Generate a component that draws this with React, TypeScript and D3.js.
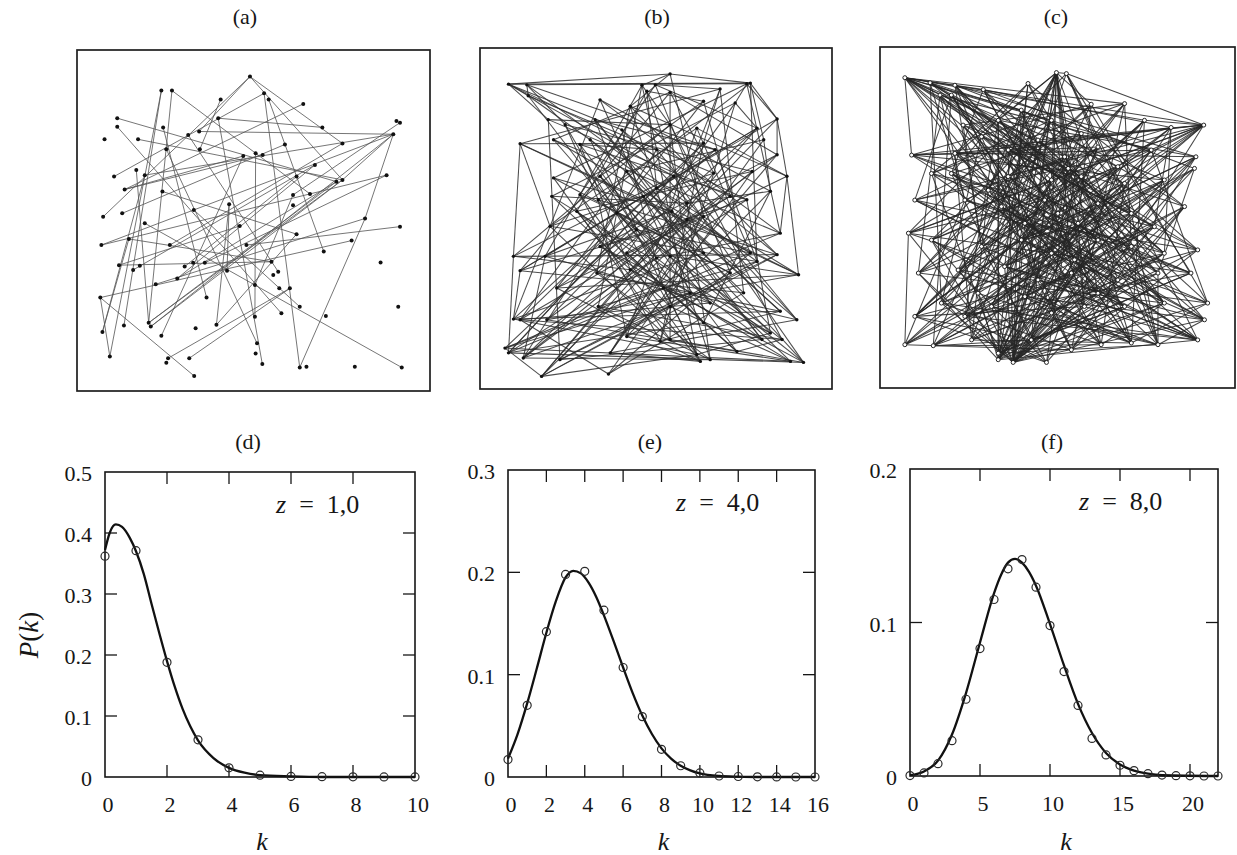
import React from "react";
import * as d3 from "d3";

const W = 1237;
const H = 855;
const FONT = "Liberation Serif, Times New Roman, Times, DejaVu Serif, Noto Serif, FreeSerif, serif";
const INK = "#161616";

// ---------- panel titles
const topTitles = ["(a)", "(b)", "(c)"];
const bottomTitles = ["(d)", "(e)", "(f)"];
const zLabels = ["1,0", "4,0", "8,0"];

// ---------- network (a): node positions in percent of the frame, edges as index pairs
const netANodes: [number, number][] = [
  [49.0, 7.8], [23.9, 11.9], [26.9, 11.9], [40.7, 14.5], [53.0, 12.7], [54.3, 14.5], [64.1, 15.8],
  [11.4, 20.0], [40.0, 20.0], [11.4, 22.5], [24.4, 22.7], [90.5, 20.8], [91.5, 21.3], [7.8, 26.2],
  [17.3, 26.2], [31.5, 24.9], [34.6, 23.9], [89.6, 24.7], [25.3, 29.1], [34.8, 29.1], [75.2, 27.4],
  [58.9, 27.7], [50.6, 30.3], [52.6, 30.8], [47.1, 31.1], [67.4, 33.7], [10.5, 37.1], [16.8, 35.2],
  [19.2, 36.7], [87.7, 36.7], [13.5, 40.9], [24.2, 41.5], [73.5, 38.6], [75.2, 38.1], [62.2, 37.1],
  [66.0, 42.2], [61.2, 42.5], [61.2, 45.5], [43.1, 45.2], [7.4, 48.9], [12.8, 47.9], [33.1, 46.9],
  [81.6, 49.4], [19.2, 50.8], [46.1, 51.6], [91.5, 51.8], [6.9, 57.2], [14.7, 55.4], [26.3, 57.2],
  [48.0, 57.2], [62.2, 54.0], [77.8, 55.9], [69.9, 59.1], [11.9, 63.1], [17.8, 63.3], [32.9, 62.4],
  [36.2, 62.4], [55.1, 62.1], [57.0, 65.0], [86.0, 62.3], [15.9, 64.5], [30.5, 63.5], [42.5, 64.7],
  [22.3, 68.7], [28.4, 67.0], [55.6, 66.0], [57.3, 69.9], [60.3, 69.9], [6.6, 72.6], [36.7, 72.6],
  [50.4, 68.9], [63.1, 75.3], [91.0, 75.3], [50.4, 78.2], [57.9, 77.2], [70.5, 78.0], [7.2, 82.7],
  [13.3, 80.8], [20.3, 80.0], [20.9, 81.1], [23.9, 83.8], [33.6, 81.6], [39.5, 80.6], [9.3, 89.9],
  [25.8, 90.4], [25.3, 91.7], [31.8, 90.4], [51.0, 86.0], [50.6, 89.0], [52.5, 92.1], [63.1, 93.1],
  [65.0, 92.9], [78.7, 92.9], [92.0, 93.1], [33.2, 95.6], [69.5, 22.7],
];
const netAEdges =
  "0-20 0-33 0-39 0-16 4-90 16-17 17-28 17-46 17-42 17-33 42-90 43-93 22-73 53-57 68-94 68-83 " +
  "83-1 1-77 2-78 9-74 7-32 14-33 26-4 30-23 30-24 6-30 33-79 32-78 68-51 2-35 27-78 28-76 60-25 " +
  "48-20 40-21 63-42 38-82 82-50 5-52 10-69 31-50 36-70 41-71 49-45 61-34 3-19 18-87 25-64 44-53 " +
  "56-29 12-36 8-89 80-24 76-47 62-38 57-47 15-58 84-67 86-67 46-29 64-32 17-79 33-78 95-8";

// ---------- network (b)
const netBNodes: [number, number][] = [
  [8.1, 10.6], [13.3, 10.8], [46.0, 10.9], [49.8, 10.8], [54.0, 7.6], [54.0, 13.0], [47.4, 12.7],
  [75.8, 10.5], [76.8, 10.3], [68.2, 12.0], [72.5, 16.1], [13.7, 14.0], [34.1, 15.2], [42.7, 17.1],
  [63.5, 15.6], [19.4, 21.0], [32.7, 21.0], [84.4, 20.8], [24.2, 22.5], [54.0, 22.5], [61.6, 23.5],
  [78.7, 23.5], [40.3, 24.0], [11.4, 28.1], [20.9, 26.9], [28.4, 28.3], [31.3, 26.9], [63.5, 27.9],
  [66.8, 29.8], [84.4, 31.3], [80.6, 26.9], [50.2, 29.8], [20.9, 38.1], [34.1, 37.6], [41.7, 36.2],
  [55.0, 37.6], [66.4, 36.7], [87.2, 37.6], [77.3, 36.2], [20.4, 43.5], [28.4, 43.0], [33.6, 44.5],
  [46.4, 43.5], [50.2, 41.1], [58.8, 45.5], [75.8, 44.5], [71.1, 43.5], [82.5, 42.0], [27.5, 47.9],
  [38.9, 48.4], [54.5, 47.9], [58.8, 50.3], [63.5, 49.4], [19.9, 52.3], [44.5, 53.3], [85.3, 54.3],
  [9.5, 61.1], [18.5, 61.1], [34.1, 58.2], [41.7, 60.1], [50.2, 61.6], [54.0, 61.1], [63.5, 60.1],
  [78.7, 62.6], [84.4, 60.6], [76.8, 60.1], [11.4, 65.3], [90.5, 66.5], [33.2, 66.0], [42.7, 65.0],
  [71.1, 66.0], [52.1, 70.4], [21.8, 70.4], [59.7, 71.8], [74.9, 71.8], [33.6, 75.8], [54.0, 75.8],
  [65.4, 74.8], [85.3, 77.2], [9.5, 79.5], [11.4, 79.7], [19.0, 79.7], [63.5, 80.6], [90.0, 79.7],
  [41.7, 84.6], [51.2, 86.0], [54.0, 85.5], [80.1, 85.5], [85.8, 85.5], [82.5, 83.6], [7.1, 88.0],
  [8.1, 89.4], [12.3, 90.9], [22.7, 91.4], [37.0, 89.4], [61.6, 89.9], [65.4, 91.4], [73.0, 89.0],
  [88.2, 91.9], [91.9, 92.2], [17.5, 96.3], [36.5, 95.6], [62.6, 91.9],
];
const netBEdges =
  "0-8 0-15 0-22 0-35 0-45 1-7 1-18 1-44 1-28 2-4 2-31 2-57 2-75 3-9 3-40 3-70 4-8 4-13 4-52 5-86 " +
  "5-24 5-66 5-29 6-14 6-48 6-62 7-17 7-32 7-55 8-63 8-41 8-30 9-23 9-50 9-74 10-21 10-39 10-59 " +
  "11-26 11-36 11-82 12-47 12-61 12-79 13-37 13-68 13-96 14-33 14-72 15-93 15-46 15-19 16-28 16-87 " +
  "16-54 17-29 17-42 17-69 18-38 18-76 19-56 19-73 19-88 20-53 20-84 20-37 21-43 21-57 21-100 22-64 " +
  "22-71 23-27 23-67 24-55 24-65 25-45 25-97 25-31 26-63 26-102 27-80 27-91 28-49 28-90 29-58 29-81 " +
  "30-34 30-94 31-92 31-83 32-50 32-70 33-60 33-98 34-87 34-77 35-56 35-99 36-53 36-85 37-55 37-72 " +
  "38-48 38-101 39-44 39-89 40-62 40-95 41-64 41-99 42-66 42-74 43-79 43-67 44-92 44-47 45-58 45-91 " +
  "46-59 46-80 47-84 48-73 48-97 49-70 49-88 50-57 50-78 51-23 51-93 51-67 52-66 52-100 53-63 53-86 " +
  "54-65 54-81 55-60 55-90 56-69 56-64 57-77 58-89 58-98 59-82 60-92 61-67 61-94 62-79 62-99 63-75 " +
  "64-84 65-91 65-101 66-74 67-72 68-78 68-96 69-87 70-100 71-90 71-83 72-85 73-93 74-101 75-96 " +
  "76-92 76-98 77-80 78-85 79-95 80-88 81-97 82-91 83-94 84-102 86-99 87-93 89-95 91-99 90-98 92-96 " +
  "94-102 95-100 97-88 56-23 66-79 90-100 1-11 8-17 17-37 " +
  "0-4 0-11 3-21 5-36 7-10 9-27 12-55 14-46 18-41 20-65 22-83 24-60 26-78 28-63 30-47 32-86 33-77 " +
  "35-91 36-100 39-76 40-85 42-89 44-96 47-82 49-66 52-94 54-72 57-92 59-97 60-87 63-100 64-93 67-81 " +
  "69-99 71-95 73-90 75-88 78-79 80-101 84-98 85-102 2-19 6-43 10-36 13-64 16-62 21-68 23-53 25-69 " +
  "27-85 29-71 31-95 34-80 37-67 38-92 41-84 45-89 48-102 50-83 56-91";

// ---------- network (c)
const netCNodes: [number, number][] = [
  [7.0, 9.0], [14.1, 10.5], [21.1, 11.2], [29.1, 12.5], [41.7, 10.7], [49.7, 7.5], [52.5, 7.8],
  [59.5, 16.8], [68.9, 16.6], [20.1, 14.1], [16.9, 14.1], [33.3, 21.5], [39.8, 18.5], [48.3, 21.5],
  [56.7, 25.4], [82.0, 23.6], [91.2, 22.9], [74.5, 21.5], [23.4, 22.9], [8.9, 31.7], [21.1, 31.2],
  [28.6, 26.3], [36.1, 30.2], [44.5, 27.3], [52.0, 32.2], [61.4, 29.3], [76.4, 30.2], [89.0, 32.2],
  [88.6, 35.6], [67.0, 35.1], [14.5, 37.1], [20.1, 37.1], [36.1, 38.0], [48.3, 39.0], [56.7, 38.0],
  [68.9, 40.0], [80.1, 39.0], [53.0, 35.6], [30.5, 42.0], [9.8, 44.9], [23.9, 44.9], [40.8, 51.7],
  [46.4, 44.9], [55.8, 51.7], [61.4, 45.9], [70.8, 48.8], [85.8, 46.8], [77.3, 52.7], [34.2, 46.8],
  [50.1, 48.8], [8.0, 54.6], [14.5, 56.6], [28.6, 58.5], [39.8, 56.6], [48.3, 60.5], [61.4, 56.6],
  [70.8, 58.5], [80.1, 60.5], [89.5, 59.5], [54.8, 62.4], [10.8, 66.3], [22.0, 65.4], [35.1, 64.4],
  [44.5, 68.3], [53.9, 66.3], [67.0, 68.3], [78.3, 66.3], [87.6, 66.3], [27.6, 72.2], [61.4, 72.2],
  [9.8, 79.0], [17.3, 75.1], [31.4, 76.1], [40.8, 73.2], [48.3, 78.0], [57.6, 76.1], [68.9, 76.1],
  [80.1, 75.1], [92.3, 75.1], [91.4, 80.0], [23.9, 79.0], [7.0, 87.3], [15.0, 87.6], [25.8, 85.9],
  [33.3, 89.8], [33.3, 91.7], [37.5, 92.5], [46.9, 92.5], [53.9, 88.8], [62.3, 87.3], [70.8, 86.8],
  [78.3, 87.3], [89.5, 85.9], [42.6, 85.9],
];
const netCAdjacency = [
  "0: 8 12 16 17 23 26 29 34 35 44 45 55 65", "1: 13 24 36 47 58 71", "2: 14 27 33 49 63 90",
  "3: 15 28 42 57 77", "4: 20 31 46 62 84", "5: 6 7 11 22 30 38 41 43 52 61 64 69 73 80 86 91",
  "6: 16 25 50 67 92", "7: 19 32 53 78", "8: 18 37 56 70 88", "9: 21 39 54 82", "10: 26 40 60 79",
  "11: 27 44 66 85", "12: 29 48 59 75", "13: 30 51 68 89", "14: 31 45 72 87", "15: 32 47 57 81 93",
  "16: 17 19 20 23 33 39 50 53 60 62", "17: 34 49 74 90", "18: 35 52 76", "19: 26 36 58 92",
  "20: 27 42 65 83", "21: 37 55 71", "22: 38 46 63 86", "23: 39 57 80", "24: 40 61 77 91",
  "25: 41 54 70 85", "26: 43 59 78", "27: 44 64 88", "28: 45 66 86", "29: 46 51 73 87",
  "30: 47 67 84", "31: 48 56 79 93", "32: 49 60 82", "33: 50 68 86", "34: 51 65 90", "35: 52 72 89",
  "36: 53 62 84", "37: 54 74 86", "38: 55 69 83", "39: 56 76 92", "40: 57 67 81", "41: 58 79 86",
  "42: 59 71 93", "43: 60 75 86", "44: 61 78 85", "45: 62 80 91", "46: 63 73 88", "47: 64 82 86",
  "48: 65 77 92", "49: 66 70 84", "50: 67 81 86", "51: 68 74 90", "52: 69 87", "53: 70 79 86",
  "54: 71 83 89", "55: 72 85 86", "56: 73 91", "57: 74 84 86", "58: 75 88", "59: 76 90 93",
  "60: 77 86", "61: 78 87", "62: 79 86 92", "63: 80 89", "64: 81 90", "65: 82 86", "66: 83 91",
  "67: 84 93", "68: 85 86", "69: 86 92", "70: 87 93", "71: 86 88", "72: 86 89", "73: 86 90",
  "74: 86 91", "75: 86 92", "76: 86 93", "77: 86 89", "78: 86 90", "79: 86 91", "80: 87 92",
  "81: 88", "82: 89 93", "83: 90", "84: 91", "85: 92",
];
const netCEdgesExtra =
  "1-40 1-66 2-52 2-77 3-31 3-69 4-37 4-56 6-45 6-83 7-43 7-60 8-30 8-62 9-44 9-75 10-48 10-92 " +
  "11-57 11-80 12-38 12-90 13-71 13-58 14-50 14-84 15-22 15-70 17-41 17-81 18-47 18-89 19-25 19-67 " +
  "20-34 20-91 21-45 21-88 22-58 23-66 24-51 24-79 25-60 25-93 26-39 26-85 27-53 27-82 28-62 28-81 " +
  "29-52 29-84 30-64 31-76 32-57 33-72 34-61 35-63 35-82 36-68 37-70 38-75 39-65 40-78 41-92 42-50 " +
  "43-77 44-73 45-53 46-87 47-71 48-88 49-62 50-76 51-84 52-89 53-78 54-93 55-81 56-83 57-70 58-80 " +
  "59-86 60-85 61-91 63-92 64-82 66-85 67-80 68-90 69-83 70-75 71-92 72-91 73-79 74-88 76-84 77-85 " +
  "0-3 0-19 0-41 0-53 5-24 5-33 5-48 5-54 5-75 16-42 16-69 16-72 16-80 85-11 85-23 85-34 85-45 " +
  "85-56 86-12 86-27 86-36 86-46";

// ---------- degree distributions (d) z = 1
const kD = [0, 1, 2, 3, 4, 5, 6, 7, 8, 9, 10];
const pD = [0.362, 0.371, 0.188, 0.061, 0.015, 0.003, 0.001, 0.0005, 0.0003, 0.0002, 0.0001];
const curveKD = [0, 0.15, 0.35, 0.55, 0.8, 1, 1.25, 1.5, 1.75, 2, 2.25, 2.5, 2.75, 3, 3.5, 4, 4.5, 5, 6, 7, 8, 10];
const curvePD = [0.372, 0.4, 0.414, 0.41, 0.392, 0.37, 0.333, 0.284, 0.236, 0.19, 0.148, 0.112, 0.083, 0.06,
  0.031, 0.015, 0.007, 0.003, 0.001, 0, 0, 0];

// (e) z = 4
const kE = [0, 1, 2, 3, 4, 5, 6, 7, 8, 9, 10, 11, 12, 13, 14, 15, 16];
const pE = [0.017, 0.07, 0.142, 0.198, 0.201, 0.163, 0.107, 0.059, 0.027, 0.011, 0.004, 0.001, 0.0005,
  0.0002, 0.0001, 0, 0];
const curveKE = [0, 0.5, 1, 1.5, 2, 2.5, 3, 3.4, 3.8, 4.2, 4.6, 5, 5.5, 6, 6.5, 7, 7.5, 8, 8.5, 9, 9.5, 10, 11, 12, 13, 16];
const curvePE = [0.018, 0.042, 0.072, 0.106, 0.141, 0.172, 0.195, 0.2015, 0.199, 0.19, 0.176, 0.158, 0.133,
  0.107, 0.082, 0.06, 0.042, 0.028, 0.018, 0.011, 0.0065, 0.0035, 0.001, 0.0003, 0, 0];

// (f) z = 8
const kF = [0, 1, 2, 3, 4, 5, 6, 7, 8, 9, 10, 11, 12, 13, 14, 15, 16, 17, 18, 19, 20, 21, 22];
const pF = [0.0003, 0.002, 0.008, 0.023, 0.05, 0.083, 0.115, 0.135, 0.141, 0.123, 0.098, 0.068, 0.046,
  0.0245, 0.0137, 0.007, 0.0035, 0.0015, 0.0006, 0.0002, 0.0001, 0, 0];
const curveKF = [0, 1, 2, 3, 4, 5, 6, 6.5, 7, 7.5, 8, 8.5, 9, 10, 11, 12, 13, 14, 15, 16, 17, 18, 22];
const curvePF = [0.0005, 0.003, 0.01, 0.027, 0.054, 0.087, 0.119, 0.131, 0.139, 0.1415, 0.139, 0.133, 0.124,
  0.099, 0.072, 0.047, 0.028, 0.015, 0.0075, 0.0035, 0.0015, 0.0005, 0];

// axis ticks
const xTicksD = [0, 2, 4, 6, 8, 10];
const yTicksD = [0, 0.1, 0.2, 0.3, 0.4, 0.5];
const xTicksE = [0, 2, 4, 6, 8, 10, 12, 14, 16];
const yTicksE = [0, 0.1, 0.2, 0.3];
const xTicksF = [0, 5, 10, 15, 20];
const yTicksF = [0, 0.1, 0.2];

const parsePairs = (s: string): [number, number][] =>
  s.trim().split(/\s+/).map((p) => p.split("-").map(Number) as [number, number]);
const parseAdjacency = (rows: string[]): [number, number][] =>
  rows.flatMap((r) => {
    const [a, rest] = r.split(":");
    return rest.trim().split(/\s+/).map((b) => [+a, +b] as [number, number]);
  });

type Frame = { x0: number; y0: number; x1: number; y1: number };

const NetPanel = ({ frame, nodes, edges, title, titleX, ring, nodeR, edgeColor, edgeWidth }: {
  frame: Frame; nodes: [number, number][]; edges: [number, number][]; title: string; titleX: number;
  ring?: boolean; nodeR: number; edgeColor: string; edgeWidth: number;
}) => {
  const x = d3.scaleLinear().domain([0, 100]).range([frame.x0, frame.x1]);
  const y = d3.scaleLinear().domain([0, 100]).range([frame.y0, frame.y1]);
  return (
    <g>
      <text x={titleX} y={24} textAnchor="middle" fontSize={22} fill={INK} fontFamily={FONT}>{title}</text>
      <rect x={frame.x0} y={frame.y0} width={frame.x1 - frame.x0} height={frame.y1 - frame.y0}
        fill="none" stroke="#1e1e1e" strokeWidth={1.7} />
      <g stroke={edgeColor} strokeWidth={edgeWidth} strokeOpacity={0.85}>
        {edges.map(([a, b], i) => (
          <line key={i} x1={x(nodes[a][0])} y1={y(nodes[a][1])} x2={x(nodes[b][0])} y2={y(nodes[b][1])} />
        ))}
      </g>
      <g>
        {nodes.map(([u, v], i) => (
          <circle key={i} cx={x(u)} cy={y(v)} r={nodeR}
            fill={ring ? "#fff" : "#111"} stroke={ring ? "#111" : "none"} strokeWidth={0.9} />
        ))}
      </g>
    </g>
  );
};

const DistPanel = ({ frame, title, titleX, z, xMax, yMax, xTicks, yTicks, curveK, curveP, dotK, dotP, yLabel }: {
  frame: Frame; title: string; titleX: number; z: string; xMax: number; yMax: number;
  xTicks: number[]; yTicks: number[]; curveK: number[]; curveP: number[]; dotK: number[]; dotP: number[];
  yLabel?: boolean;
}) => {
  const x = d3.scaleLinear().domain([0, xMax]).range([frame.x0, frame.x1]);
  const y = d3.scaleLinear().domain([0, yMax]).range([frame.y1, frame.y0]);
  const line = d3.line<number>().x((_, i) => x(curveK[i])).y((p) => y(p)).curve(d3.curveMonotoneX);
  const tl = 12;
  const innerX = xTicks.filter((t) => t > 0 && t < xMax);
  const innerY = yTicks.filter((t) => t > 0 && t < yMax);
  const fmtY = (t: number) => (t === 0 ? "0" : d3.format(".1f")(t));
  const cx = (frame.x0 + frame.x1) / 2;
  return (
    <g fontFamily={FONT}>
      <text x={titleX} y={449} textAnchor="middle" fontSize={22} fill={INK}>{title}</text>
      <g stroke={INK} strokeWidth={1.3}>
        {innerX.map((t) => (
          <g key={"x" + t}>
            <line x1={x(t)} x2={x(t)} y1={frame.y1} y2={frame.y1 - tl} />
            <line x1={x(t)} x2={x(t)} y1={frame.y0} y2={frame.y0 + tl} />
          </g>
        ))}
        {innerY.map((t) => (
          <g key={"y" + t}>
            <line x1={frame.x0} x2={frame.x0 + tl} y1={y(t)} y2={y(t)} />
            <line x1={frame.x1} x2={frame.x1 - tl} y1={y(t)} y2={y(t)} />
          </g>
        ))}
      </g>
      <rect x={frame.x0} y={frame.y0} width={frame.x1 - frame.x0} height={frame.y1 - frame.y0}
        fill="none" stroke={INK} strokeWidth={1.6} />
      <g fontSize={22} fill={INK}>
        {xTicks.map((t) => (
          <text key={t} x={x(t) + 3} y={frame.y1 + 35} textAnchor="middle">{t}</text>
        ))}
        {yTicks.map((t) => (
          <text key={t} x={frame.x0 - 13} y={y(t) + 9} textAnchor="end">{fmtY(t)}</text>
        ))}
      </g>
      <path d={line(curveP) ?? ""} fill="none" stroke="#111" strokeWidth={2.3} strokeLinejoin="round" />
      <g fill="none" stroke="#2a2a2a" strokeWidth={1.2}>
        {dotK.map((k, i) => (
          <circle key={k} cx={x(k)} cy={y(dotP[i])} r={4} />
        ))}
      </g>
      <text x={frame.x1 - 139} y={frame.y0 + 41} fontSize={26} fill={INK}>
        <tspan fontStyle="italic">z</tspan>
        <tspan>{"\u2002=\u2002" + z}</tspan>
      </text>
      <text x={cx + 2} y={850} textAnchor="middle" fontSize={26} fontStyle="italic" fill={INK}>k</text>
      {yLabel && (
        <text transform={`translate(38, 635) rotate(-90)`} textAnchor="middle" fontSize={27} fill={INK}>
          <tspan fontStyle="italic">P</tspan>
          <tspan>(</tspan>
          <tspan fontStyle="italic">k</tspan>
          <tspan>)</tspan>
        </text>
      )}
    </g>
  );
};

export default function App() {
  const edgesA = parsePairs(netAEdges);
  const edgesB = parsePairs(netBEdges);
  const edgesC = parseAdjacency(netCAdjacency).concat(parsePairs(netCEdgesExtra));
  return (
    <svg width={W} height={H} viewBox={`0 0 ${W} ${H}`} fontFamily={FONT}
      style={{ position: "absolute", left: 0, top: 0, background: "#fff" }}>
      <rect width={W} height={H} fill="#fff" />
      <NetPanel frame={{ x0: 77, y0: 50, x1: 430, y1: 391 }} nodes={netANodes} edges={edgesA}
        title={topTitles[0]} titleX={245} nodeR={2} edgeColor="#555" edgeWidth={0.95} />
      <NetPanel frame={{ x0: 480, y0: 48, x1: 832, y1: 389 }} nodes={netBNodes} edges={edgesB}
        title={topTitles[1]} titleX={657} nodeR={1.7} edgeColor="#2e2e2e" edgeWidth={1.05} />
      <NetPanel frame={{ x0: 880, y0: 47, x1: 1235, y1: 388 }} nodes={netCNodes} edges={edgesC}
        title={topTitles[2]} titleX={1056} nodeR={2} ring edgeColor="#262626" edgeWidth={1.05} />
      <DistPanel frame={{ x0: 105, y0: 472, x1: 415, y1: 777 }} title={bottomTitles[0]} titleX={248}
        z={zLabels[0]} xMax={10} yMax={0.5} xTicks={xTicksD} yTicks={yTicksD}
        curveK={curveKD} curveP={curvePD} dotK={kD} dotP={pD} yLabel />
      <DistPanel frame={{ x0: 508, y0: 470, x1: 815, y1: 777 }} title={bottomTitles[1]} titleX={650}
        z={zLabels[1]} xMax={16} yMax={0.3} xTicks={xTicksE} yTicks={yTicksE}
        curveK={curveKE} curveP={curvePE} dotK={kE} dotP={pE} />
      <DistPanel frame={{ x0: 910, y0: 469, x1: 1218, y1: 776 }} title={bottomTitles[2]} titleX={1052}
        z={zLabels[2]} xMax={22} yMax={0.2} xTicks={xTicksF} yTicks={yTicksF}
        curveK={curveKF} curveP={curvePF} dotK={kF} dotP={pF} />
    </svg>
  );
}
